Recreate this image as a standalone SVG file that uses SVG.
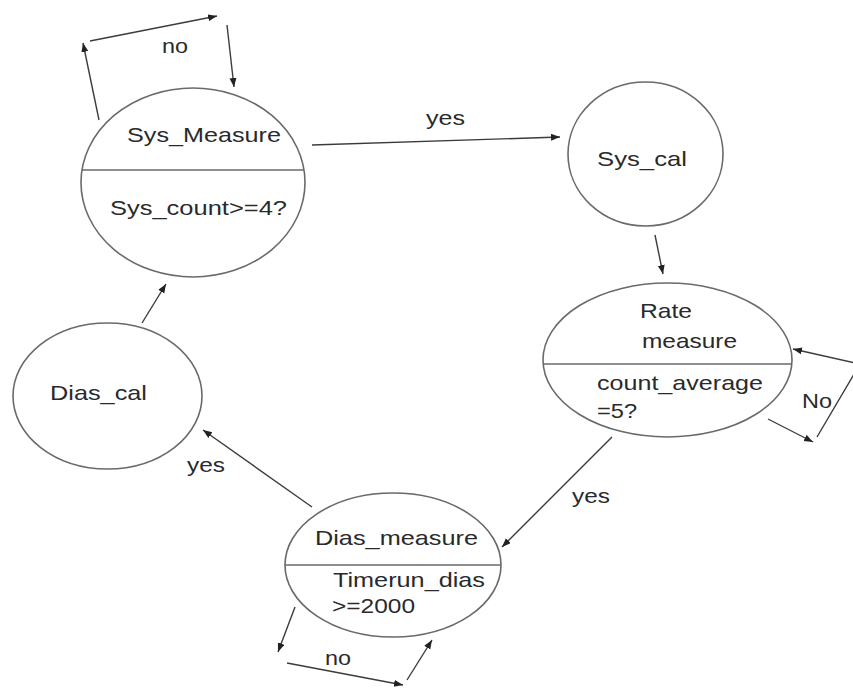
<svg xmlns="http://www.w3.org/2000/svg" width="853" height="690" viewBox="0 0 853 690">
<defs>
<style>
.node{fill:#ffffff;stroke:#6a6a6a;stroke-width:1.6}
.div{stroke:#6a6a6a;stroke-width:1.6}
.lbl{font-family:"Liberation Sans",Arial,sans-serif;font-size:21px;fill:#2a2a2a}
.edge{fill:none;stroke:#3c3c3c;stroke-width:1.4;marker-end:url(#ah)}
</style>
<marker id="ah" markerWidth="10" markerHeight="8" refX="9" refY="3.5" orient="auto" markerUnits="userSpaceOnUse">
<path d="M0,0 L9,3.5 L0,7 z" fill="#222"/>
</marker>
</defs>
<rect width="853" height="690" fill="#ffffff"/>
<g id="connectors">
<line class="edge" x1="99" y1="120" x2="83" y2="43"/>
<line class="edge" x1="90" y1="41" x2="217" y2="16"/>
<line class="edge" x1="227" y1="25" x2="234" y2="87"/>
<line class="edge" x1="312" y1="145" x2="560" y2="137"/>
<line class="edge" x1="655" y1="235" x2="663" y2="274"/>
<line class="edge" x1="768" y1="419" x2="813" y2="442"/>
<path class="edge" d="M817,437 L860,364 L793,349"/>
<line class="edge" x1="612" y1="437" x2="502" y2="547"/>
<line class="edge" x1="295" y1="607" x2="278" y2="652"/>
<line class="edge" x1="287" y1="663" x2="403" y2="685"/>
<line class="edge" x1="407" y1="680" x2="432" y2="640"/>
<line class="edge" x1="312" y1="507" x2="203" y2="430"/>
<line class="edge" x1="142" y1="323" x2="166" y2="284"/>
<text class="lbl" x="162" y="53" textLength="26" lengthAdjust="spacingAndGlyphs">no</text>
<text class="lbl" x="426" y="125" textLength="39" lengthAdjust="spacingAndGlyphs">yes</text>
<text class="lbl" x="802" y="408" textLength="30" lengthAdjust="spacingAndGlyphs">No</text>
<text class="lbl" x="572" y="503" textLength="38" lengthAdjust="spacingAndGlyphs">yes</text>
<text class="lbl" x="325" y="665" textLength="26" lengthAdjust="spacingAndGlyphs">no</text>
<text class="lbl" x="187" y="472" textLength="38" lengthAdjust="spacingAndGlyphs">yes</text>
</g>
<g id="sys_measure">
<ellipse class="node" cx="193" cy="182.5" rx="112" ry="94.5"/>
<line class="div" x1="82" y1="170" x2="304" y2="170"/>
<text class="lbl" x="127" y="142" textLength="154" lengthAdjust="spacingAndGlyphs">Sys_Measure</text>
<text class="lbl" x="110" y="215" textLength="177" lengthAdjust="spacingAndGlyphs">Sys_count&gt;=4?</text>
</g>
<g id="sys_cal">
<ellipse class="node" cx="645.5" cy="154" rx="77.5" ry="72"/>
<text class="lbl" x="597" y="166" textLength="90" lengthAdjust="spacingAndGlyphs">Sys_cal</text>
</g>
<g id="rate_measure">
<ellipse class="node" cx="667.5" cy="360" rx="124.5" ry="77"/>
<line class="div" x1="543" y1="364" x2="792" y2="364"/>
<text class="lbl" x="640" y="318" textLength="52" lengthAdjust="spacingAndGlyphs">Rate</text>
<text class="lbl" x="642" y="348" textLength="95" lengthAdjust="spacingAndGlyphs">measure</text>
<text class="lbl" x="597" y="390" textLength="166" lengthAdjust="spacingAndGlyphs">count_average</text>
<text class="lbl" x="597" y="418" textLength="40" lengthAdjust="spacingAndGlyphs">=5?</text>
</g>
<g id="dias_measure">
<ellipse class="node" cx="393" cy="565" rx="108" ry="72"/>
<line class="div" x1="285" y1="565" x2="501" y2="565"/>
<text class="lbl" x="315" y="545" textLength="163" lengthAdjust="spacingAndGlyphs">Dias_measure</text>
<text class="lbl" x="333" y="587" textLength="152" lengthAdjust="spacingAndGlyphs">Timerun_dias</text>
<text class="lbl" x="332" y="613" textLength="83" lengthAdjust="spacingAndGlyphs">&gt;=2000</text>
</g>
<g id="dias_cal">
<ellipse class="node" cx="107.5" cy="396" rx="94.5" ry="73"/>
<text class="lbl" x="50" y="400" textLength="97" lengthAdjust="spacingAndGlyphs">Dias_cal</text>
</g>
</svg>
